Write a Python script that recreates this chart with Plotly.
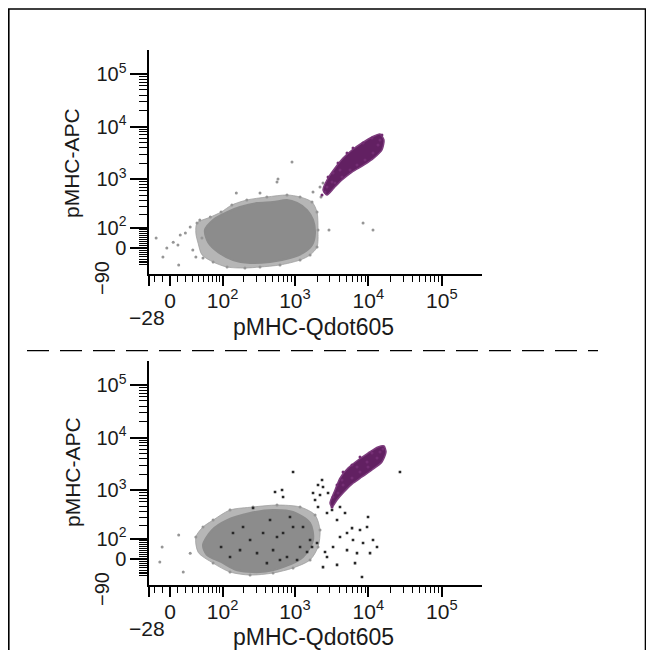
import numpy as np
import plotly.graph_objects as go

# ---------------- data (fluorescence values) ----------------
# top panel: dense grey population outline, outer speckle ring, scattered grey events
top_core_x = [53, 72, 116, 177, 304, 504, 780, 1070, 1464, 1765, 1877, 1710, 1290, 860, 458, 244, 141, 86, 60]
top_core_y = [87, 156, 230, 291, 350, 366, 401, 350, 253, 156, 70, 13, -22, -45, -65, -70, -55, -18, 26]
top_ring_x = [38, 65, 95, 136, 220, 415, 780, 1175, 1710, 2000, 2063, 2000, 1608, 1175, 626, 334, 207, 116, 72, 47, 40, 36]
top_ring_y = [132, 180, 230, 320, 401, 459, 502, 459, 366, 230, 87, 4, -31, -55, -81, -93, -99, -93, -65, -30, 20, 70]
top_grey_x = [-4, 10, 20, 27, 38, 47, 31, 49, 72, 116, 207, 334, 626, 1175, 1608, 2000, 2063, 2000, 1710, 1175,
              780, 415, 220, 136, 95, 65, 43, 13, 157, 334, 570, 4, -9, -18, 11, 36, 2265, 2909, 1765, 2197,
              2413, 588, 913, 8460, 11560]
top_grey_y = [0, 13, 70, 105, 132, 45, -9, -45, -65, -93, -99, -93, -81, -55, -31, 4, 87, 230, 366, 459,
              502, 459, 401, 320, 230, 180, 156, 60, 550, 550, 893, 26, -40, 45, -81, -40, 459, 87, 575, 716,
              855, 1017, 2140, 132, 87]
top_purple_core_x = [2413, 2825, 3515, 4520, 5990, 8180, 11200, 14400, 16300, 15300, 11930, 8730, 5990, 4375, 3410, 2735]
top_purple_core_y = [628, 1063, 1650, 2550, 3620, 4920, 6390, 7280, 5600, 3620, 2550, 1880, 1380, 973, 685, 502]
top_purple_x = [2735, 3200, 3305, 2825, 4110, 3860, 5120, 6175, 8460, 11200, 14400, 13530, 11560, 9000, 7000,
                5630, 4375, 3515, 2570, 2340, 15300]
top_purple_y = [716, 893, 1320, 1110, 1510, 2050, 3170, 3950, 4920, 6110, 5600, 4500, 3170, 2340, 1880,
                1510, 1110, 855, 575, 502, 6970]

# bottom panel
bot_core_x = [49, 69, 116, 244, 504, 944, 1608, 1765, 1290, 690, 334, 157, 95, 57]
bot_core_y = [65, 163, 265, 366, 419, 384, 230, 93, 9, -36, -60, -50, -13, 18]
bot_ring_x = [36, 49, 72, 128, 268, 570, 1175, 1880, 2197, 2063, 1608, 944, 504, 244, 128, 72, 40]
bot_ring_y = [112, 190, 265, 419, 480, 524, 480, 335, 163, 55, -4, -40, -65, -76, -60, -18, 30]
bot_grey_x = [49, 72, 128, 268, 570, 1175, 1880, 2197, 2063, 1608, 944, 504, 244, 128, 72, -10, -13, 11, 17, 27, 36]
bot_grey_y = [190, 265, 419, 480, 524, 480, 335, 163, 55, -4, -40, -65, -76, -60, -18, 55, -13, 126, -60, 26, 112]
bot_black_x = [944, 26900, 536, 668, 690, 268, 2197, 1880, 2413, 2825, 2063, 3305, 3200, 4110, 4810, 2735,
               3745, 9890, 9585, 7690, 5990, 5120, 4110, 6175, 8460, 11560, 13100, 10530, 7000, 5120, 3305,
               2570, 2000, 1608, 1710, 1464, 1175, 1070, 2735, 3745, 6580, 8180, 2413, 944, 690, 458, 368,
               244, 177, 304, 504, 780, 570, 141, 195, 857, 1290, 626, 415, 128, 95, 1765, 2063, 2340]
bot_black_y = [2240, 2240, 931, 1017, 749, 459, 817, 656, 1160, 893, 480, 656, 419, 480, 366, 366,
               265, 305, 190, 163, 180, 140, 112, 93, 76, 93, 55, 26, 26, 40, 55,
               31, 76, 93, 55, 31, 55, -4, 9, -26, -18, -87, -36, 190, 140, 265, 140,
               93, 40, 26, 40, 9, 112, 140, 190, 305, 190, -4, -18, 9, 55, 893, 1270, 1580]
bot_purple_core_x = [3005, 3515, 4110, 5280, 7230, 9890, 13530, 16300, 17360, 15300, 11200, 8180, 5990, 4660, 3745, 3200]
bot_purple_core_y = [573, 1017, 1720, 2660, 3780, 5130, 6670, 6970, 5360, 3460, 2440, 1800, 1320, 931, 656, 480]
bot_purple_x = [3200, 3305, 3745, 4375, 4520, 5990, 7690, 11200, 14400, 15800, 13100, 9890, 7690, 5990,
                4520, 3860, 7000, 9585]
bot_purple_y = [480, 749, 1270, 1580, 2240, 3040, 4310, 5130, 5360, 6110, 4130, 2780, 2240, 1720,
                1270, 893, 2780, 3460]

# axis ticks
major_vals = [0, 100, 1000, 10000, 100000]
major_text = ["0", "10<sup>2</sup>", "10<sup>3</sup>", "10<sup>4</sup>", "10<sup>5</sup>"]
x_min_val = -28
y_min_label = -90
x_minor_vals = [-20, -10, 10, 20, 30, 40, 50, 60, 70, 80, 90] + \
    [k * 10 ** d for d in (2, 3, 4) for k in range(2, 10)]
y_minor_vals = [-80, -70, -60, -50, -40, -30, -20, -10, 10, 20, 30, 40, 50, 60, 70, 80, 90] + \
    [k * 10 ** d for d in (2, 3, 4) for k in range(2, 10)]

# ---------------- biexponential display scale ----------------
LN10 = np.log(10)
def tx(v):
    return np.arcsinh(np.asarray(v, float) / 40.0) / LN10
def ty(v):
    return np.arcsinh(np.asarray(v, float) / 100.0) / LN10

# the page body has an 8px margin; figure fills the rest of the 654x650 window
OFF = 8
W, H = 654 - OFF, 650 - OFF
def pxx(x): return (x - OFF) / W
def pxy(y): return 1 - (y - OFF) / H

FONT = "Liberation Sans, Arial, Helvetica, sans-serif"
GREY = "rgb(140,140,140)"
RING = "rgba(158,158,158,0.75)"
PURPLE = "rgb(98,32,98)"
TXT = "#1a1a1a"

fig = go.Figure()

def add_panel(xa, ya, core_x, core_y, ring_x, ring_y, grey_x, grey_y, pc_x, pc_y, p_x, p_y,
              blk_x=None, blk_y=None):
    kw = dict(xaxis=xa, yaxis=ya, showlegend=False, hoverinfo="skip")
    fig.add_trace(go.Scatter(x=tx(ring_x + ring_x[:1]), y=ty(ring_y + ring_y[:1]), mode="lines",
                             line=dict(color=RING, width=1, shape="spline", smoothing=0.8), fill="toself",
                             fillcolor=RING, **kw))
    fig.add_trace(go.Scatter(x=tx(core_x + core_x[:1]), y=ty(core_y + core_y[:1]), mode="lines",
                             line=dict(color=GREY, width=2, shape="spline", smoothing=0.8), fill="toself",
                             fillcolor=GREY, **kw))
    fig.add_trace(go.Scatter(x=tx(grey_x), y=ty(grey_y), mode="markers",
                             marker=dict(color="rgb(150,150,150)", size=3, line=dict(width=0)), **kw))
    if blk_x is not None:
        fig.add_trace(go.Scatter(x=tx(blk_x), y=ty(blk_y), mode="markers",
                                 marker=dict(color="rgb(40,40,40)", size=2.6, symbol="square",
                                             line=dict(width=0)), **kw))
    fig.add_trace(go.Scatter(x=tx(pc_x + pc_x[:1]), y=ty(pc_y + pc_y[:1]), mode="lines",
                             line=dict(color="rgb(125,60,125)", width=1.5, shape="spline", smoothing=0.7),
                             fill="toself", fillcolor=PURPLE, **kw))
    fig.add_trace(go.Scatter(x=tx(p_x), y=ty(p_y), mode="markers",
                             marker=dict(color="rgb(115,45,115)", size=3, line=dict(width=0)), **kw))

add_panel("x", "y", top_core_x, top_core_y, top_ring_x, top_ring_y, top_grey_x, top_grey_y,
          top_purple_core_x, top_purple_core_y, top_purple_x, top_purple_y)
add_panel("x2", "y2", bot_core_x, bot_core_y, bot_ring_x, bot_ring_y, bot_grey_x, bot_grey_y,
          bot_purple_core_x, bot_purple_core_y, bot_purple_x, bot_purple_y, bot_black_x, bot_black_y)

xrange = [float(tx(x_min_val)), 4.245]
yrange = [-0.493, 3.757]
xdom = [pxx(149.2), pxx(482)]

def xaxis_cfg(anchor):
    return dict(domain=xdom, range=xrange, anchor=anchor, showline=True, linecolor="black",
                linewidth=1.5, showgrid=False, zeroline=False, ticks="outside", ticklen=10,
                tickwidth=1.5, tickcolor="black", tickmode="array", ticklabelstandoff=-3,
                tickvals=[float(v) for v in tx([x_min_val] + major_vals)],
                ticktext=[""] + major_text,
                tickfont=dict(family=FONT, size=21, color=TXT),
                minor=dict(tickmode="array", tickvals=[float(v) for v in tx(x_minor_vals)],
                           ticks="outside", ticklen=6, tickwidth=1, tickcolor="black", showgrid=False))

def yaxis_cfg(anchor, dom):
    return dict(domain=dom, range=yrange, anchor=anchor, showline=True, linecolor="black",
                linewidth=1.5, showgrid=False, zeroline=False, ticks="outside", ticklen=17,
                tickwidth=1.5, tickcolor="black", tickmode="array",
                tickvals=[float(v) for v in ty(major_vals)], ticktext=major_text,
                tickfont=dict(family=FONT, size=20, color=TXT),
                minor=dict(tickmode="array", tickvals=[float(v) for v in ty(y_minor_vals)],
                           ticks="outside", ticklen=8, tickwidth=1, tickcolor="black", showgrid=False))

fig.update_layout(
    width=W, height=H, margin=dict(l=0, r=0, t=0, b=0),
    paper_bgcolor="white", plot_bgcolor="white",
    xaxis=xaxis_cfg("y"), yaxis=yaxis_cfg("x", [pxy(274), pxy(50)]),
    xaxis2=xaxis_cfg("y2"), yaxis2=yaxis_cfg("x2", [pxy(585), pxy(361)]),
)

annots = []
for (ax_bottom, xt_y, yt_y) in [(274, 327, 163), (585, 637, 472)]:
    annots.append(dict(text="pMHC-Qdot605", x=pxx(313), y=pxy(xt_y), xref="paper", yref="paper",
                       showarrow=False, font=dict(family=FONT, size=23, color=TXT),
                       xanchor="center", yanchor="middle"))
    annots.append(dict(text="pMHC-APC", x=pxx(72), y=pxy(yt_y), xref="paper", yref="paper",
                       showarrow=False, textangle=-90, font=dict(family=FONT, size=21, color=TXT),
                       xanchor="center", yanchor="middle"))
    annots.append(dict(text="\u221228", x=pxx(147), y=pxy(ax_bottom + 43), xref="paper", yref="paper",
                       showarrow=False, font=dict(family=FONT, size=21, color=TXT),
                       xanchor="center", yanchor="middle"))
    annots.append(dict(text="\u2212" + str(abs(y_min_label)), x=pxx(102), y=pxy(ax_bottom + 4),
                       xref="paper", yref="paper", showarrow=False, textangle=-90,
                       font=dict(family=FONT, size=20, color=TXT),
                       xanchor="center", yanchor="middle"))
fig.update_layout(annotations=annots)

fig.add_shape(type="rect", xref="paper", yref="paper", x0=pxx(8.8), x1=pxx(645.5), y0=pxy(700),
              y1=pxy(9), line=dict(color="black", width=1.6), fillcolor="rgba(0,0,0,0)", layer="above")
fig.add_shape(type="line", xref="paper", yref="paper", x0=pxx(27), x1=pxx(598), y0=pxy(350.7),
              y1=pxy(350.7), line=dict(color="black", width=1.3, dash="22px,11px"))

fig.write_html("out.html")
